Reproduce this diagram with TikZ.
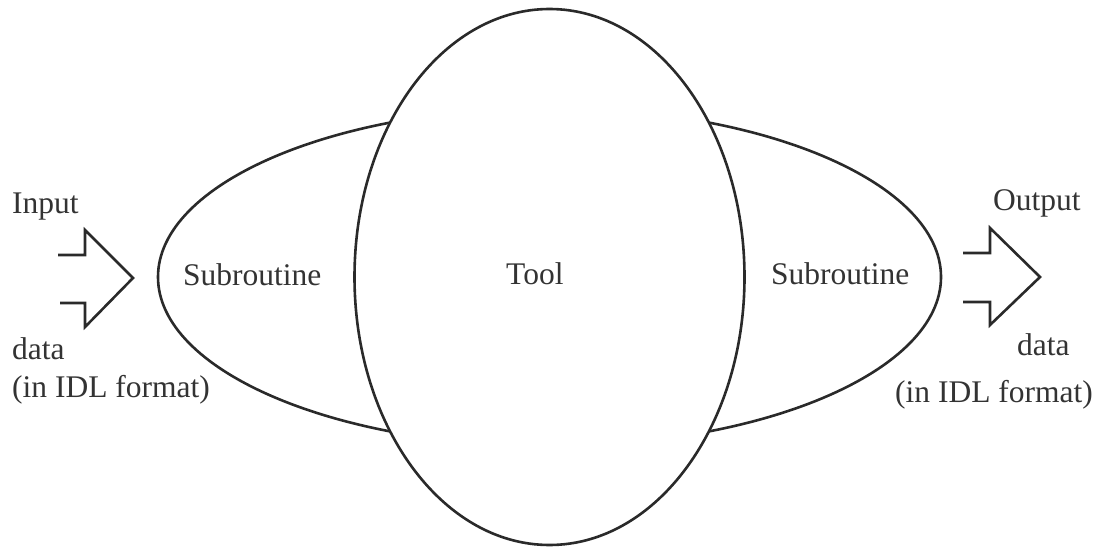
\documentclass[tikz,border=0pt]{standalone}
\usepackage{fontspec}
\setmainfont{Liberation Serif}
\usetikzlibrary{shapes.geometric}
\definecolor{ink}{HTML}{2A2A2A}
\definecolor{txt}{HTML}{333333}
\tikzset{
  outline/.style={draw=ink, line width=2.6pt, line join=miter},
  label/.style={text=txt, inner sep=0pt, anchor=base west, font=\fontsize{31.5}{36}\selectfont},
  bigarrow/.style={draw=ink, line width=2.6pt, line join=miter}
}
\begin{document}
\begin{tikzpicture}[x=1pt,y=-1pt]
  \useasboundingbox (0,0) rectangle (1099,548);
  % subroutine layer, a wide ellipse lying behind the tool
  \node[outline, ellipse, inner sep=0pt, minimum width=783pt, minimum height=338pt] (sub) at (549.5,277) {};
  % the tool itself, drawn over it
  \node[outline, ellipse, fill=white, inner sep=0pt, minimum width=390pt, minimum height=536pt] (tool) at (549.5,277) {};

  \node[label] (tooltxt) at (506,284) {Tool};
  \node[label] (subl) at (183,285) {Subroutine};
  \node[label] (subr) at (771,284) {Subroutine};

  % input side
  \node[label] (intxt) at (12,213) {Input};
  \node[label] (indata) at (12,359) {data};
  \node[label] (infmt) at (12,397) {(in IDL format)};
  \draw[bigarrow] (58,255) -- (85,255) -- (85,230) -- (133,278) -- (85,327) -- (85,303) -- (60,303);

  % output side
  \node[label] (outtxt) at (993,210) {Output};
  \node[label] (outdata) at (1017,355) {data};
  \node[label] (outfmt) at (895,402) {(in IDL format)};
  \draw[bigarrow] (963,253) -- (990,253) -- (990,228) -- (1040,277) -- (990,325) -- (990,302) -- (963,302);
\end{tikzpicture}
\end{document}
